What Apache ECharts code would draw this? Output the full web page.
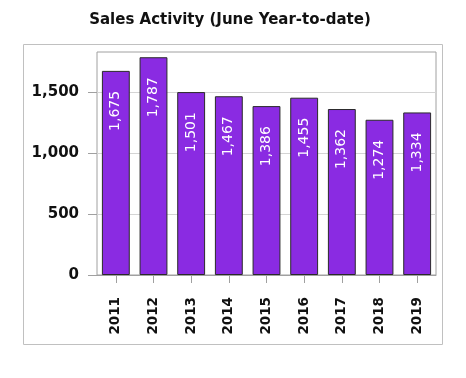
<!DOCTYPE html>
<html>
<head>
<meta charset="utf-8">
<script src="https://cdn.jsdelivr.net/npm/echarts@6/dist/echarts.min.js"></script>
<style>
html,body{margin:0;padding:0;background:#fff;}
#chart{width:466px;height:378px;}
</style>
</head>
<body>
<div id="chart"></div>
<script>
var titleText = 'Sales Activity (June Year-to-date)';
var categories = ['2011','2012','2013','2014','2015','2016','2017','2018','2019'];
var salesValues = [1675, 1787, 1501, 1467, 1386, 1455, 1362, 1274, 1334];
var yTicks = [0, 500, 1000, 1500];

var chart = echarts.init(document.getElementById('chart'), null, {renderer: 'canvas'});
var fmt = function (v) { return v.toLocaleString('en-US'); };
chart.setOption({
  animation: false,
  title: {
    text: titleText,
    left: 225, top: 8, textAlign: 'center',
    textStyle: {fontFamily: 'DejaVu Sans', fontWeight: 'bold', fontSize: 15, color: '#111'}
  },
  graphic: [{
    type: 'rect', shape: {x: 23.5, y: 44.5, width: 419, height: 300},
    style: {fill: 'none', stroke: '#c0c0c0', lineWidth: 1}, z: -1
  }],
  grid: {left: 97, right: 30, top: 52, bottom: 103, show: true, borderColor: '#a0a0a0', borderWidth: 1},
  xAxis: {
    type: 'category', data: categories,
    axisLine: {show: true, lineStyle: {color: '#a0a0a0'}},
    axisTick: {show: true, alignWithLabel: true, length: 8, lineStyle: {color: '#a0a0a0'}},
    axisLabel: {rotate: 90, margin: 22, fontFamily: 'DejaVu Sans', fontWeight: 'bold', fontSize: 13.5, color: '#111'}
  },
  yAxis: {
    type: 'value', min: 0, max: 1830, interval: 500,
    axisLine: {show: false},
    axisTick: {show: true, length: 9, customValues: yTicks, lineStyle: {color: '#a0a0a0'}},
    axisLabel: {
      margin: 18, fontFamily: 'DejaVu Sans', fontWeight: 'bold', fontSize: 15, color: '#111',
      customValues: yTicks,
      formatter: function (v) { return fmt(v); }
    },
    splitLine: {lineStyle: {color: '#d4d4d4'}}
  },
  series: [{
    type: 'bar', data: salesValues, barCategoryGap: '26%',
    itemStyle: {color: '#8a2be2', borderColor: '#2a2a2a', borderWidth: 1},
    label: {
      show: true, position: 'insideTop', rotate: 90, align: 'right', verticalAlign: 'middle',
      distance: 20, fontFamily: 'DejaVu Sans', fontSize: 14, color: '#fff',
      formatter: function (p) { return fmt(p.value); }
    }
  }]
});
</script>
</body>
</html>
